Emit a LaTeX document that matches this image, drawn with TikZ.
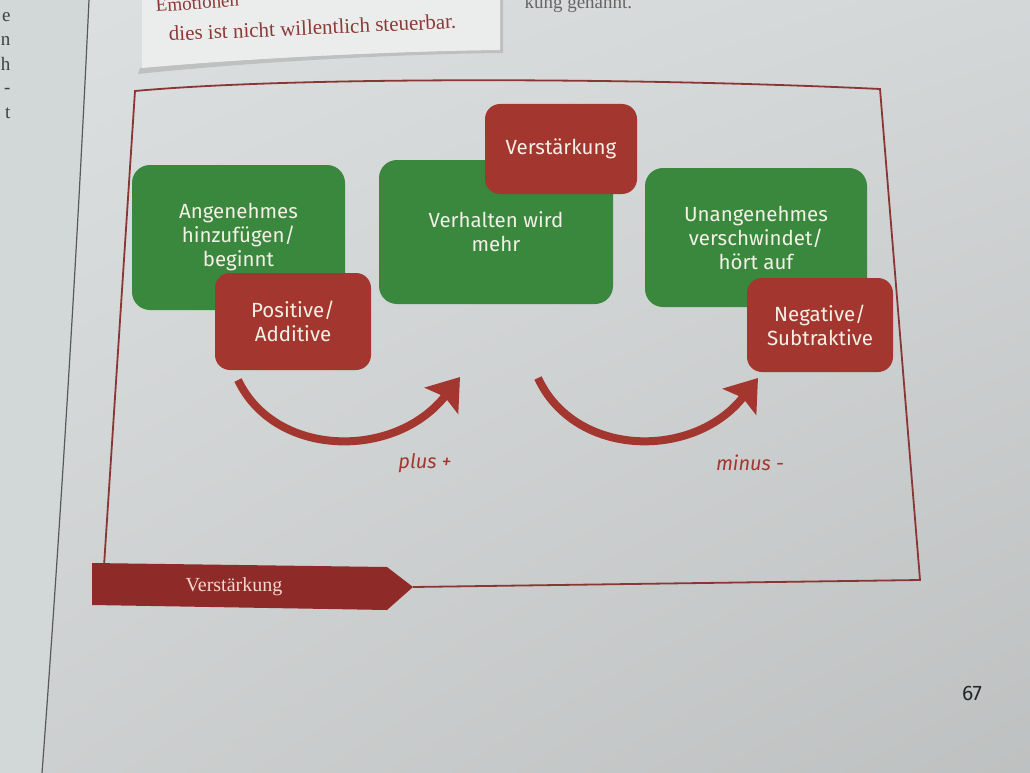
\documentclass[tikz,border=0pt]{standalone}
\usepackage{fontspec}
\setmainfont{Liberation Serif}
\newfontfamily\handfont{Fira Sans}
\usetikzlibrary{calc, arrows.meta, shadings}
\definecolor{pagegray}{HTML}{DDE0E0}
\definecolor{leftpage}{HTML}{D2D7D7}
\definecolor{boxgreen}{HTML}{3A873E}
\definecolor{boxred}{HTML}{A3372F}
\definecolor{tagred}{HTML}{8E2A27}
\definecolor{framered}{HTML}{8A3634}
\definecolor{boxtext}{HTML}{F3F0E6}
\definecolor{inkred}{HTML}{8B3A36}
\tikzset{>=latex,
  greenbox/.style={fill=boxgreen, rounded corners=18pt, inner sep=0pt, text=boxtext, align=center,
    font=\handfont\fontsize{20.5}{24}\selectfont},
  redbox/.style={greenbox, fill=boxred, rounded corners=15pt},
  bigarrow/.style={draw=boxred, line width=8pt, -{Stealth[length=30pt, width=42pt, inset=5pt]}},
  marklabel/.style={text=boxred, font=\handfont\itshape\fontsize{20}{22}\selectfont}
}

\begin{document}
\begin{tikzpicture}[x=1pt, y=-1pt]
\clip (0,0) rectangle (1030,773);
\shade[upper left=pagegray, upper right=pagegray!96!black, lower left=pagegray!93!black, lower right=pagegray!86!black]
  (0,0) rectangle (1030,773);
\fill[leftpage] (0,0) -- (89,0) .. controls (75,300) and (55,600) .. (42,773) -- (0,773) -- cycle;
\draw[gray!70!black, line width=1.2pt] (89,0) .. controls (75,300) and (55,600) .. (42,773);
\foreach \ch/\yy in {e/22, n/46, h/71, -/94, t/118}
  \node[anchor=base east, text=black!75, font=\fontsize{19}{20}\selectfont] at (14,\yy) {\ch};

% Kasten oben
\fill[gray!55, opacity=0.8] (138,74) .. controls (250,62) and (400,54) .. (503,53) -- (503,0) -- (500,0) -- (500,50)
  .. controls (400,51) and (250,58) .. (140,68) -- cycle;
\fill[pagegray!60!white] (142,0) -- (500,0) -- (500,50) .. controls (400,51) and (250,58) .. (142,68) -- cycle;
\node[anchor=base west, rotate=4, text=inkred, font=\fontsize{19}{20}\selectfont, inner sep=1pt] at (155,12) {Emotionen};
\node[anchor=base west, rotate=2.5, text=inkred, font=\fontsize{21}{22}\selectfont, inner sep=1pt] (steuer) at (168,41)
  {dies ist nicht willentlich steuerbar.};
\node[anchor=base west, text=gray!80!black, font=\fontsize{19}{20}\selectfont] at (521,9) {kung genannt.};

% Rahmen
\coordinate (tagtip) at (413,587);
\draw[framered, line width=1.8pt] (tagtip) -- (920,580) -- (880,89)
  .. controls (650,78) and (300,76) .. (135,91) -- (104,566);
\fill[tagred] (92,563) -- (387,567) -- (tagtip) -- (387,610) -- (92,605) -- cycle;
\node[text=boxtext!90!red, font=\fontsize{20}{22}\selectfont] (tag) at (234,587) {Verstärkung};

\node[greenbox, minimum width=213pt, minimum height=145pt] (angenehm) at (238.5,237.5)
  {Angenehmes\\hinzufügen/\\beginnt};
\node[greenbox, minimum width=234pt, minimum height=144pt] (verhalten) at (496,232)
  {Verhalten wird\\mehr};
\node[greenbox, minimum width=222pt, minimum height=139pt] (unangenehm) at (756,237.5)
  {Unangenehmes\\verschwindet/\\hört auf};
\node[redbox, minimum width=156pt, minimum height=97pt] (positiv) at (293,321.5) {Positive/\\Additive};
\node[redbox, minimum width=152pt, minimum height=90pt] (verst) at (561,149) {Verstärkung};
\node[redbox, minimum width=146pt, minimum height=94pt] (negativ) at (820,325) {Negative/\\Subtraktive};

\coordinate (plusfrom) at (238,380);
\coordinate (plusto) at (460,377);
\coordinate (minusfrom) at (538,378);
\coordinate (minusto) at (758,378);
\draw[bigarrow] (plusfrom) .. controls (275,458) and (395,460) .. (plusto);
\draw[bigarrow] (minusfrom) .. controls (575,458) and (694,460) .. (minusto);
\node[marklabel] (plus) at (425,463) {plus +};
\node[marklabel] (minus) at (750,463) {minus -};

\node[text=black!85, font=\handfont\fontsize{21}{22}\selectfont] (seite) at (972,693) {67};
\end{tikzpicture}
\end{document}
